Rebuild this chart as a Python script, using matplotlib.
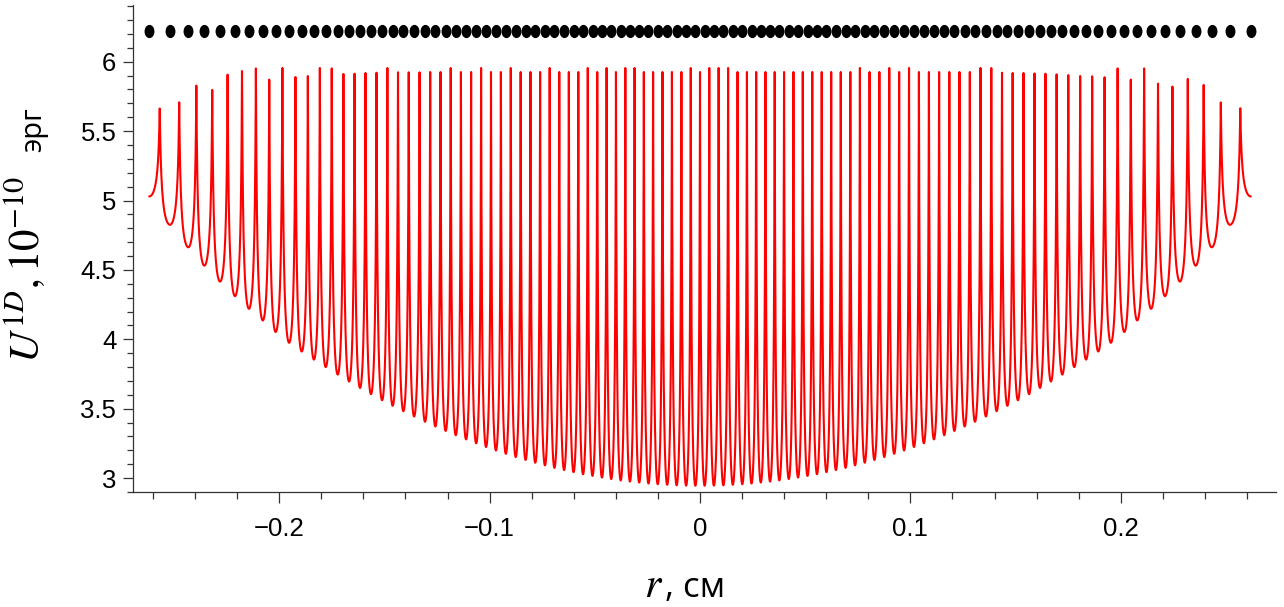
import numpy as np
import matplotlib.pyplot as plt
from matplotlib.path import Path
from matplotlib.transforms import Affine2D

plt.rcParams['mathtext.fontset'] = 'stix'

# positions of the particles, left half (cm); right half is the mirror image
r_left = [-0.2617, -0.2519, -0.2432, -0.2356, -0.2281, -0.2210, -0.2144, -0.2078, -0.2017, -0.1953,
          -0.1893, -0.1835, -0.1779, -0.1722, -0.1668, -0.1616, -0.1564, -0.1511, -0.1461, -0.1410,
          -0.1359, -0.1307, -0.1258, -0.1209, -0.1161, -0.1112, -0.1064, -0.1017, -0.0970, -0.0923,
          -0.0876, -0.0829, -0.0783, -0.0737, -0.0692, -0.0646, -0.0601, -0.0556, -0.0511, -0.0466,
          -0.0422, -0.0377, -0.0333, -0.0289, -0.0245, -0.0201, -0.0156, -0.0111, -0.0066, -0.0022]
dot_level = 6.225

# energy at each particle (valley bottoms), left half
u_min_left = [5.030, 4.825, 4.663, 4.531, 4.416, 4.311, 4.220, 4.136, 4.053, 3.975,
              3.912, 3.854, 3.800, 3.746, 3.696, 3.650, 3.605, 3.561, 3.521, 3.482,
              3.444, 3.406, 3.372, 3.340, 3.309, 3.279, 3.251, 3.224, 3.199, 3.175,
              3.152, 3.131, 3.111, 3.092, 3.074, 3.058, 3.043, 3.028, 3.016, 3.004,
              2.993, 2.983, 2.975, 2.968, 2.961, 2.956, 2.952, 2.948, 2.946, 2.945]

# energy maxima between neighbouring particles (99 values)
u_peak = [5.663, 5.708, 5.828, 5.797, 5.907, 5.933, 5.952, 5.871, 5.955, 5.890,
          5.897, 5.955, 5.952, 5.912, 5.914, 5.919, 5.921, 5.955, 5.924, 5.924,
          5.924, 5.926, 5.926, 5.955, 5.926, 5.926, 5.955, 5.926, 5.926, 5.955,
          5.926, 5.926, 5.926, 5.955, 5.926, 5.926, 5.926, 5.955, 5.926, 5.955,
          5.926, 5.955, 5.955, 5.926, 5.926, 5.926, 5.926, 5.926, 5.955, 5.926,
          5.955, 5.955, 5.955, 5.926, 5.926, 5.926, 5.926, 5.926, 5.926, 5.926,
          5.926, 5.926, 5.926, 5.926, 5.926, 5.926, 5.955, 5.926, 5.926, 5.955,
          5.926, 5.955, 5.926, 5.926, 5.926, 5.926, 5.926, 5.926, 5.955, 5.955,
          5.921, 5.919, 5.919, 5.916, 5.914, 5.909, 5.904, 5.897, 5.895, 5.888,
          5.952, 5.871, 5.952, 5.842, 5.821, 5.876, 5.833, 5.707, 5.665]

x_ticks = [-0.2, -0.1, 0.0, 0.1, 0.2]
x_labels = ['\u22120.2', '\u22120.1', '0', '0.1', '0.2']
y_ticks = [3, 3.5, 4, 4.5, 5, 5.5, 6]
y_labels = ['3', '3.5', '4', '4.5', '5', '5.5', '6']

r_dots = np.array(r_left + [-v for v in r_left[::-1]])
u_min = np.array(u_min_left + u_min_left[::-1])


def shape(t, c=0.7):
    # smooth valley bottom, sharp cusp at the top
    return (1.0 / (1.0 - c * t**2) - 1.0) / (1.0 / (1.0 - c) - 1.0)


xs, ys = [], []
t = np.linspace(0, 1, 40)
for i in range(len(r_dots) - 1):
    r0, r1 = r_dots[i], r_dots[i + 1]
    mid = 0.5 * (r0 + r1)
    p = u_peak[i]
    xs.append(r0 + (mid - r0) * t)
    ys.append(u_min[i] + (p - u_min[i]) * shape(t))
    xs.append(mid + (r1 - mid) * t[1:])
    ys.append(u_min[i + 1] + (p - u_min[i + 1]) * shape(1 - t[1:]))
x_curve = np.concatenate(xs)
y_curve = np.concatenate(ys)

fig = plt.figure(figsize=(12.84, 6.07), dpi=100)
ax = fig.add_axes([0.1036, 0.1895, 0.8902, 0.8023])

ax.plot(x_curve, y_curve, color='#ff0000', lw=1.5)

oval = Path.unit_circle().transformed(Affine2D().scale(0.72, 1.0))
ax.plot(r_dots, np.full(len(r_dots), dot_level), ls='none', marker=oval,
        ms=8.5, color='black')

ax.set_xlim(-0.2695, 0.2738)
ax.set_ylim(2.914, 6.409)

ax.spines['top'].set_visible(False)
ax.spines['right'].set_visible(False)
for s in ['left', 'bottom']:
    ax.spines[s].set_color('#333333')
    ax.spines[s].set_linewidth(0.9)

ax.set_xticks(x_ticks)
ax.set_xticklabels(x_labels)
ax.set_xticks(np.arange(-0.26, 0.27, 0.02), minor=True)
ax.set_yticks(y_ticks)
ax.set_yticklabels(y_labels)
ax.set_yticks(np.arange(2.9, 6.45, 0.1), minor=True)

ax.tick_params(axis='x', which='major', length=8, width=0.9, color='#333333', pad=10)
ax.tick_params(axis='x', which='minor', length=5, width=0.9, color='#333333')
ax.tick_params(axis='y', which='major', length=7, width=0.9, color='#333333', pad=5)
ax.tick_params(axis='y', which='minor', length=4, width=0.9, color='#333333')
for lab in ax.get_xticklabels() + ax.get_yticklabels():
    lab.set_fontfamily('Liberation Sans')
    lab.set_fontsize(18.5)

# axis titles: math part larger than the units, as in the original
fig.text(663 / 1284, 1 - 597 / 607, r'$r$', fontsize=30, ha='right', va='baseline')
fig.text(665 / 1284, 1 - 597 / 607, ', см', fontsize=25, family='Open Sans',
         ha='left', va='baseline')
fig.text(39 / 1284, 1 - 363 / 607, r'$U^{1D}, 10^{-10}$', fontsize=31,
         rotation=90, rotation_mode='anchor', ha='left', va='baseline')
fig.text(41 / 1284, 1 - 152 / 607, 'эрг', fontsize=21, family='Open Sans',
         rotation=90, rotation_mode='anchor', ha='left', va='baseline')

fig.savefig('out.png', dpi=100, facecolor='white')
